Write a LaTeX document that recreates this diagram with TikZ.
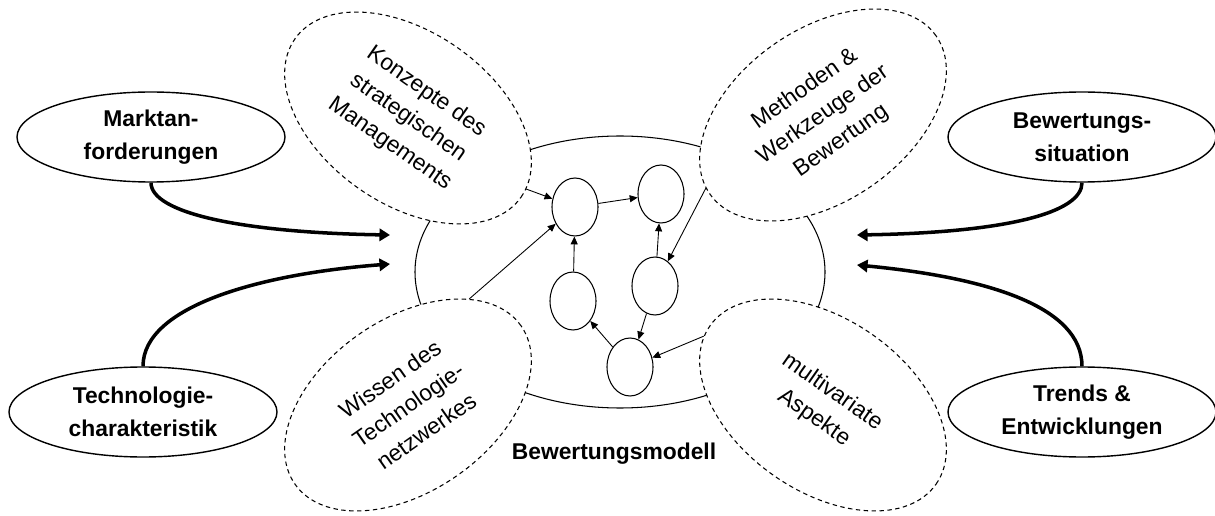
\documentclass[tikz,border=0pt]{standalone}
\usepackage{fontspec}
\setmainfont{Liberation Sans}
\usetikzlibrary{arrows.meta,shapes.geometric}

\begin{document}
\begin{tikzpicture}[
    outer/.style={draw,ellipse,line width=0.8pt,minimum width=5.36cm,minimum height=1.8cm,
      inner sep=0pt,align=center,font=\fontsize{13}{18.5}\selectfont\bfseries},
    view/.style={draw,ellipse,dash pattern=on 2.5pt off 2pt,line width=0.6pt,fill=white,
      minimum width=5.52cm,minimum height=3.44cm,inner sep=0pt,align=center,
      font=\fontsize{13}{18}\selectfont},
    knot/.style={draw,ellipse,line width=0.6pt,minimum width=0.92cm,minimum height=1.16cm,inner sep=0pt},
    feed/.style={line width=2pt,-{Triangle[length=6pt,width=7pt]}},
    link/.style={line width=0.5pt,-{Triangle[length=4.5pt,width=4pt]}}
  ]
    \useasboundingbox (0,0) rectangle (24.3,10.3);
    % model in the middle
    \node [draw,ellipse,line width=0.6pt,minimum width=8.2cm,minimum height=5.44cm] (modell) at (12.4,4.86) {};
    \node [font=\fontsize{13}{16}\selectfont\bfseries] (name) at (12.28,1.22) {Bewertungsmodell};

    \node [view,rotate=-35] (konz) at (8.16,7.94) {Konzepte des\\strategischen\\Managements};
    \node [view,rotate=35] (meth) at (16.46,8.0) {Methoden \&\\Werkzeuge der\\Bewertung};
    \node [view,rotate=35] (wiss) at (8.16,2.2) {Wissen des\\Technologie-\\netzwerkes};
    \node [view,rotate=-35] (mult) at (16.46,2.2) {multivariate\\Aspekte};

    \node [knot] (c1) at (11.5,6.16) {};
    \node [knot] (c2) at (13.22,6.42) {};
    \node [knot] (c3) at (13.1,4.58) {};
    \node [knot] (c4) at (11.46,4.28) {};
    \node [knot] (c5) at (12.6,2.96) {};

    \draw [link] (c1) -- (c2);
    \draw [link] (c4) -- (c1);
    \draw [link] (c3) -- (c2);
    \draw [link] (c3) -- (c5);
    \draw [link] (c5) -- (c4);
    \draw [link] (konz.4) -- (c1);
    \draw [link] (wiss.25) -- (c1);
    \draw [link] (meth.177) -- (c3);
    \draw [link] (mult.185) -- (c5);

    % influences from outside
    \node [outer] (markt) at (3.02,7.56) {Marktan-\\forderungen};
    \node [outer] (techn) at (2.86,2.06) {Technologie-\\charakteristik};
    \node [outer] (bews) at (21.64,7.56) {Bewertungs-\\situation};
    \node [outer] (trends) at (21.64,2.06) {Trends \&\\Entwicklungen};

    \coordinate (in1) at (7.8,5.6);
    \coordinate (in2) at (7.8,5.02);
    \coordinate (in3) at (17.14,5.6);
    \coordinate (in4) at (17.14,5.0);

    \draw [feed] (markt.south) .. controls +(0,-0.6) and +(-3,0.05) .. (in1);
    \draw [feed] (techn.north) .. controls +(0,1.2) and +(-2.6,-0.2) .. (in2);
    \draw [feed] (bews.south) .. controls +(0,-0.6) and +(3,0.05) .. (in3);
    \draw [feed] (trends.north) .. controls +(0,1.2) and +(2.6,-0.25) .. (in4);
\end{tikzpicture}
\end{document}
